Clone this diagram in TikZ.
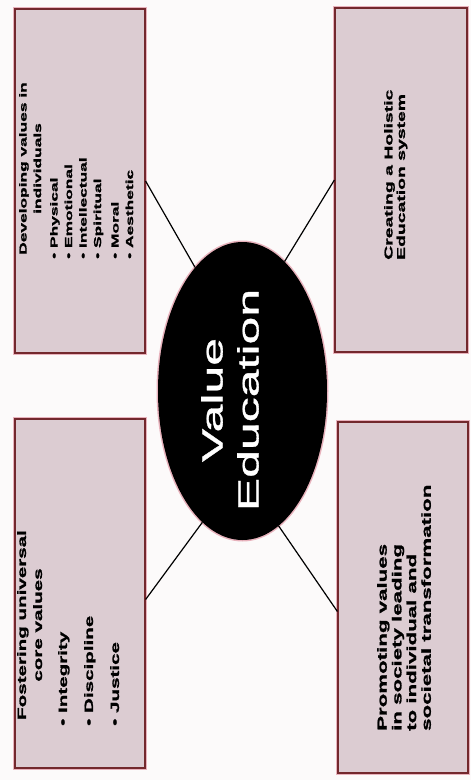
\documentclass[tikz,border=0pt]{standalone}
\usepackage{fontspec}
\newfontfamily\boxfont[FakeStretch=1.7,FakeBold=1.6]{Liberation Sans}
\newfontfamily\ovalfont[FakeStretch=1.7,FakeBold=1.2]{Liberation Sans}
\usetikzlibrary{shapes.geometric}
\definecolor{boxfill}{RGB}{220,204,210}
\definecolor{boxedge}{RGB}{115,40,45}
\definecolor{boxglow}{RGB}{232,178,188}
\definecolor{bgcol}{RGB}{252,250,250}
\begin{document}
\begin{tikzpicture}[x=1pt,y=-1pt,
  panel/.style={rectangle, fill=boxfill, draw=boxedge, line width=1.2pt,
    preaction={draw=boxglow, line width=4pt}, inner sep=0pt},
  oval/.style={ellipse, fill=black, inner sep=0pt,
    preaction={draw=boxglow, line width=3pt}},
  boxtext/.style={rotate=90, inner sep=0pt, text=black},
  conn/.style={draw=black, line width=1.2pt}
]
\useasboundingbox (0,0) rectangle (471,780);
\fill[bgcol] (0,0) rectangle (471,780);

% panels
\node[panel, minimum width=130, minimum height=344] (tl) at (80,181) {};
\node[panel, minimum width=132, minimum height=344] (tr) at (401,180) {};
\node[panel, minimum width=130, minimum height=349] (bl) at (80,593.5) {};
\node[panel, minimum width=130, minimum height=351] (br) at (403,597.5) {};

% central ellipse
\node[oval, minimum width=169, minimum height=298] (ve) at (242.5,391) {};

% connectors
\draw[conn] (tl.east) -- (ve.111);
\draw[conn] (tr.west) -- (ve.72);
\draw[conn] ([yshift=-6pt]bl.east) -- (ve.253);
\draw[conn] ([yshift=-14pt]br.west) -- (ve.285);

% centre text
\node[boxtext, text=white, font=\ovalfont\fontsize{29.4}{36}\selectfont,
  align=center, anchor=north] (vet) at (201,400) {Value\\Education};

% top-left
\node[boxtext, font=\boxfont\bfseries\fontsize{10.2}{14.5}\selectfont,
  align=center, anchor=north] (tlh) at (19,168.5) {Developing values in\\individuals};
\node[boxtext, font=\boxfont\bfseries\fontsize{10.2}{14.5}\selectfont,
  align=left, anchor=north west] (tll) at (50,259)
  {\textbullet\ Physical\\\textbullet\ Emotional\\\textbullet\ Intellectual\\\textbullet\ Spiritual\\[3pt]\textbullet\ Moral\\\textbullet\ Aesthetic};

% top-right
\node[boxtext, font=\boxfont\bfseries\fontsize{11.4}{12.5}\selectfont,
  align=left, anchor=north west] (trt) at (384,260) {Creating a Holistic\\Education system};

% bottom-left
\node[boxtext, font=\boxfont\bfseries\fontsize{12.1}{16}\selectfont,
  align=center, anchor=north] (blh) at (17,625) {Fostering universal\\core values};
\node[boxtext, font=\boxfont\bfseries\fontsize{12.1}{26}\selectfont,
  align=left, anchor=north west] (bll) at (58,726)
  {\textbullet\ Integrity\\\textbullet\ Discipline\\\textbullet\ Justice};

% bottom-right
\node[boxtext, font=\boxfont\bfseries\fontsize{13.1}{14.7}\selectfont,
  align=left, anchor=north west] (brt) at (377,731)
  {Promoting values\\in society leading\\to individual and\\societal transformation};
\end{tikzpicture}
\end{document}
